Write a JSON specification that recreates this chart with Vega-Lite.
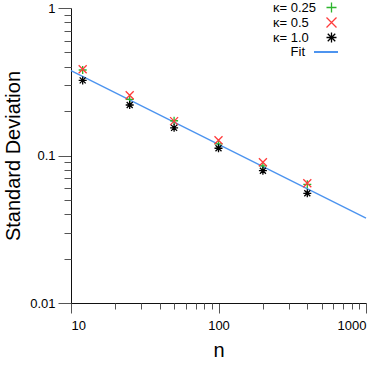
{
  "$schema": "https://vega.github.io/schema/vega-lite/v6.json",
  "width": 295,
  "height": 295,
  "autosize": {"type": "none"},
  "padding": {"left": 71, "top": 8, "right": 15, "bottom": 62},
  "background": "white",
  "config": {
    "view": {"stroke": null},
    "font": "Liberation Sans",
    "axis": {
      "labelFont": "Liberation Sans",
      "labelFontSize": 13,
      "labelColor": "#000",
      "titleFont": "Liberation Sans",
      "titleFontSize": 20,
      "titleFontWeight": "normal",
      "titleColor": "#000",
      "domainColor": "#111",
      "tickColor": "#555",
      "grid": false
    },
    "legend": {
      "labelFont": "Liberation Sans",
      "labelFontSize": 13,
      "labelColor": "#000",
      "padding": 0
    }
  },
  "resolve": {"axis": {"x": "independent", "y": "independent"}},
  "layer": [
    {
      "data": {"values": [
        {"n": 10, "sd": 0.376, "series": "Fit"},
        {"n": 1000, "sd": 0.0376, "series": "Fit"}
      ]},
      "mark": {"type": "line", "strokeWidth": 1.3},
      "encoding": {
        "x": {"field": "n", "type": "quantitative",
              "scale": {"type": "log", "domain": [10, 1000], "nice": false},
              "axis": {"orient": "bottom", "values": [10, 100, 1000], "format": "d", "tickSize": 10, "labelPadding": 6, "title": "n", "titlePadding": 8}},
        "y": {"field": "sd", "type": "quantitative",
              "scale": {"type": "log", "domain": [0.01, 1], "nice": false},
              "axis": {"orient": "left", "values": [0.01, 0.1, 1], "format": "~g", "tickSize": 13, "labelPadding": 3, "title": "Standard Deviation", "titlePadding": 6}},
        "stroke": {"field": "series", "type": "nominal",
                   "scale": {"domain": ["Fit"], "range": ["#4d94ef"]},
                   "legend": {"title": null, "orient": "none", "legendX": 242, "legendY": 31,
                              "symbolType": "stroke", "symbolSize": 576, "symbolStrokeWidth": 2,
                              "labelAlign": "right", "labelOffset": -34}}
      }
    },
    {
      "data": {"values": [
        {"n": 12, "sd": 0.380, "kappa": "κ= 0.25"},
        {"n": 25, "sd": 0.240, "kappa": "κ= 0.25"},
        {"n": 50, "sd": 0.172, "kappa": "κ= 0.25"},
        {"n": 100, "sd": 0.120, "kappa": "κ= 0.25"},
        {"n": 200, "sd": 0.085, "kappa": "κ= 0.25"},
        {"n": 400, "sd": 0.0638, "kappa": "κ= 0.25"},
        {"n": 12, "sd": 0.384, "kappa": "κ= 0.5"},
        {"n": 25, "sd": 0.256, "kappa": "κ= 0.5"},
        {"n": 50, "sd": 0.171, "kappa": "κ= 0.5"},
        {"n": 100, "sd": 0.127, "kappa": "κ= 0.5"},
        {"n": 200, "sd": 0.0899, "kappa": "κ= 0.5"},
        {"n": 400, "sd": 0.0648, "kappa": "κ= 0.5"},
        {"n": 12, "sd": 0.323, "kappa": "κ= 1.0"},
        {"n": 25, "sd": 0.220, "kappa": "κ= 1.0"},
        {"n": 50, "sd": 0.154, "kappa": "κ= 1.0"},
        {"n": 100, "sd": 0.112, "kappa": "κ= 1.0"},
        {"n": 200, "sd": 0.0789, "kappa": "κ= 1.0"},
        {"n": 400, "sd": 0.0554, "kappa": "κ= 1.0"}
      ]},
      "mark": {"type": "point", "filled": false, "size": 64, "strokeWidth": 1.3, "opacity": 1},
      "encoding": {
        "x": {"field": "n", "type": "quantitative",
              "axis": {"orient": "bottom", "values": [20, 30, 40, 50, 60, 70, 80, 90, 200, 300, 400, 500, 600, 700, 800, 900], "tickSize": 6, "labels": false, "domain": false, "title": null}},
        "y": {"field": "sd", "type": "quantitative",
              "axis": {"orient": "left", "values": [0.02, 0.03, 0.04, 0.05, 0.06, 0.07, 0.08, 0.09, 0.2, 0.3, 0.4, 0.5, 0.6, 0.7, 0.8, 0.9], "tickSize": 7, "labels": false, "domain": false, "title": null}},
        "color": {"field": "kappa", "type": "nominal",
                  "scale": {"domain": ["κ= 0.25", "κ= 0.5", "κ= 1.0"], "range": ["#2db52d", "#ff3b3b", "#000000"]},
                  "legend": {"title": null, "orient": "none", "legendX": 254, "legendY": -7,
                             "labelAlign": "left", "labelOffset": -65, "rowPadding": -2, "symbolStrokeWidth": 1.3}},
        "shape": {"field": "kappa", "type": "nominal",
                  "scale": {"domain": ["κ= 0.25", "κ= 0.5", "κ= 1.0"],
                            "range": ["M-1,0H1M0,-1V1", "M-1,-1L1,1M-1,1L1,-1", "M-1,0H1M0,-1V1M-0.75,-0.75L0.75,0.75M-0.75,0.75L0.75,-0.75"]}}
      }
    }
  ]
}
